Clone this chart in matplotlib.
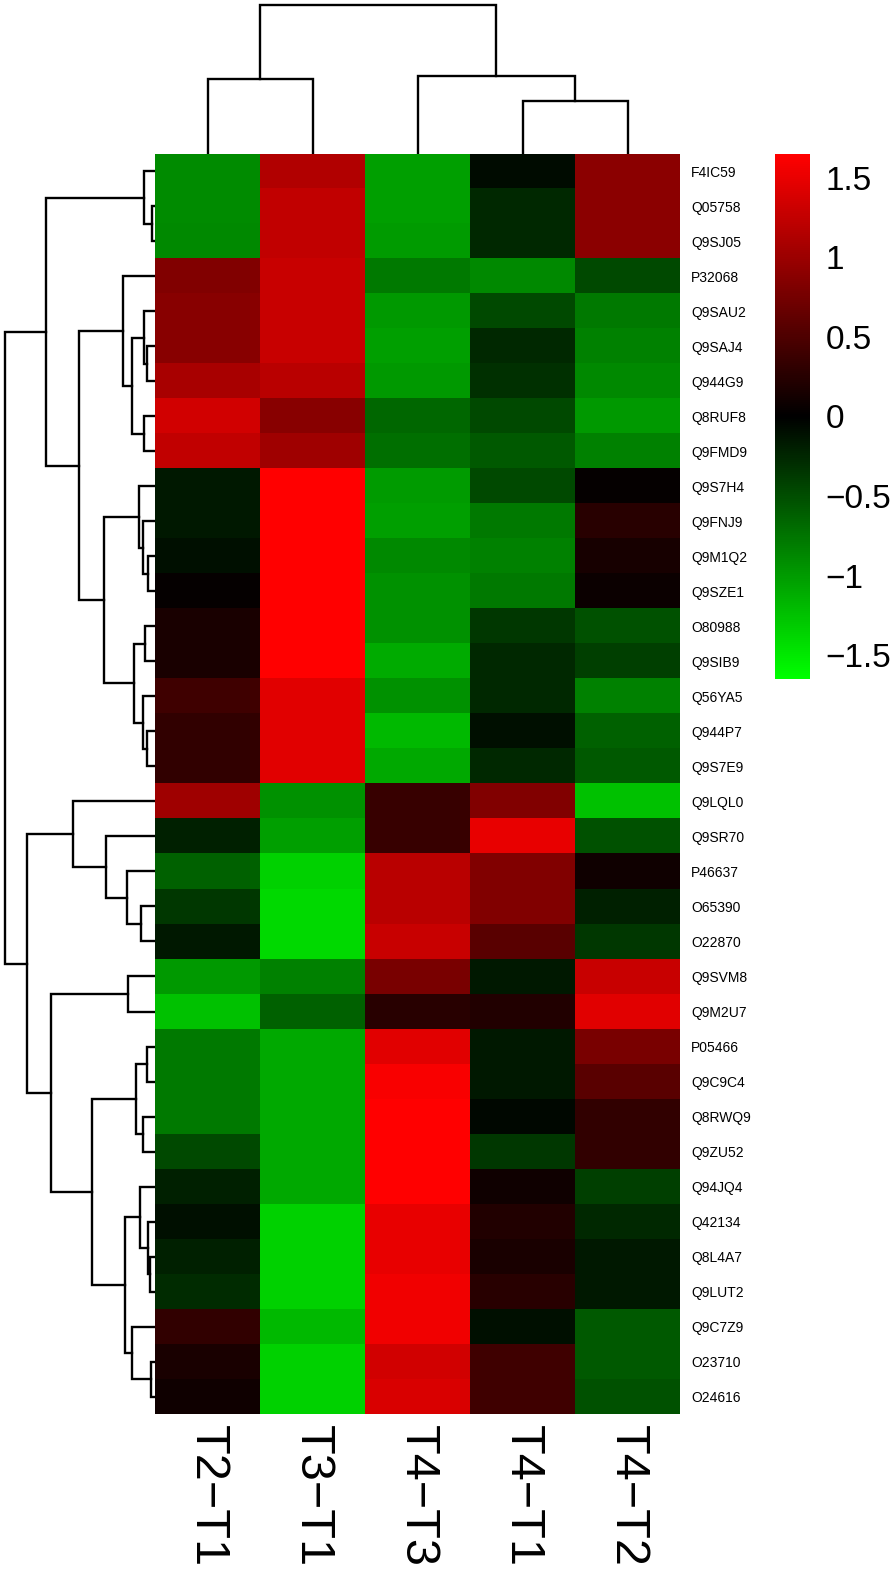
import numpy as np
import matplotlib
matplotlib.use('Agg')
from matplotlib import pyplot as plt
from matplotlib.colors import LinearSegmentedColormap

plt.rcParams['font.family'] = ['Liberation Sans', 'DejaVu Sans']

# ---------------------------------------------------------------- data
samples = ['T2\u2212T1', 'T3\u2212T1', 'T4\u2212T3', 'T4\u2212T1', 'T4\u2212T2']

proteins = ['F4IC59', 'Q05758', 'Q9SJ05', 'P32068', 'Q9SAU2', 'Q9SAJ4',
            'Q944G9', 'Q8RUF8', 'Q9FMD9', 'Q9S7H4', 'Q9FNJ9', 'Q9M1Q2',
            'Q9SZE1', 'O80988', 'Q9SIB9', 'Q56YA5', 'Q944P7', 'Q9S7E9',
            'Q9LQL0', 'Q9SR70', 'P46637', 'O65390', 'O22870', 'Q9SVM8',
            'Q9M2U7', 'P05466', 'Q9C9C4', 'Q8RWQ9', 'Q9ZU52', 'Q94JQ4',
            'Q42134', 'Q8L4A7', 'Q9LUT2', 'Q9C7Z9', 'O23710', 'O24616']

# one list per column (z-scores, same order as proteins)
t2_t1 = [-0.89, -0.90, -0.88, 0.83, 0.88, 0.88, 1.09, 1.35, 1.24, -0.16, -0.16, -0.10,
         0.03, 0.16, 0.16, 0.41, 0.31, 0.31, 1.03, -0.21, -0.62, -0.36, -0.16, -0.98,
         -1.24, -0.78, -0.78, -0.78, -0.47, -0.21, -0.10, -0.21, -0.28, 0.31, 0.16, 0.10]
t3_t1 = [1.14, 1.24, 1.24, 1.29, 1.29, 1.29, 1.19, 0.88, 1.03, 1.65, 1.65, 1.65,
         1.65, 1.65, 1.65, 1.45, 1.45, 1.45, -0.93, -1.03, -1.35, -1.40, -1.40, -0.83,
         -0.62, -1.09, -1.09, -1.09, -1.09, -1.09, -1.35, -1.35, -1.35, -1.19, -1.35, -1.35]
t4_t3 = [-1.03, -1.03, -1.00, -0.78, -0.98, -1.03, -0.98, -0.67, -0.72, -1.00, -1.03, -0.88,
         -0.93, -0.93, -1.10, -0.93, -1.19, -1.09, 0.36, 0.36, 1.19, 1.19, 1.29, 0.78,
         0.26, 1.45, 1.60, 1.65, 1.65, 1.65, 1.50, 1.50, 1.55, 1.55, 1.35, 1.40]
t4_t1 = [-0.07, -0.26, -0.26, -0.88, -0.47, -0.26, -0.31, -0.47, -0.57, -0.47, -0.78, -0.83,
         -0.78, -0.36, -0.26, -0.26, -0.10, -0.26, 0.83, 1.50, 0.83, 0.83, 0.57, -0.16,
         0.21, -0.16, -0.16, -0.05, -0.36, 0.10, 0.21, 0.16, 0.26, -0.10, 0.41, 0.41]
t4_t2 = [0.90, 0.90, 0.90, -0.47, -0.78, -0.83, -0.88, -0.98, -0.83, 0.03, 0.26, 0.15,
         0.07, -0.52, -0.41, -0.83, -0.62, -0.57, -1.24, -0.52, 0.10, -0.21, -0.36, 1.29,
         1.45, 0.78, 0.57, 0.31, 0.31, -0.41, -0.26, -0.16, -0.16, -0.57, -0.57, -0.52]

# row tree: (child a, child b, height); leaves are 0..35, new nodes get 36, 37, ...
row_merges = [(1, 2, 2.7), (0, 36, 10.7), (5, 6, 8.3), (4, 38, 10.7), (7, 8, 10.7),
              (39, 40, 23.0), (3, 41, 32.0), (11, 12, 6.7), (10, 43, 12.3), (9, 44, 15.7),
              (13, 14, 10.0), (16, 17, 8.3), (15, 47, 11.7), (46, 48, 20.7), (45, 49, 51.0),
              (42, 50, 75.7), (37, 51, 109.0), (21, 22, 14.3), (20, 53, 27.7), (19, 54, 49.0),
              (18, 55, 82.0), (23, 24, 26.7), (25, 26, 8.3), (27, 28, 12.3), (58, 59, 19.0),
              (31, 32, 5.0), (30, 61, 6.7), (29, 62, 15.0), (34, 35, 4.3), (33, 64, 23.3),
              (63, 65, 30.0), (60, 66, 63.3), (57, 67, 104.0), (56, 68, 128.0), (52, 69, 150.0)]

# column tree
col_merges = [(3, 4, 52.7), (2, 5, 78.0), (0, 1, 74.7), (7, 6, 149.0)]

cbar_ticks = [-1.5, -1, -0.5, 0, 0.5, 1, 1.5]
cbar_labels = ['\u22121.5', '\u22121', '\u22120.5', '0', '0.5', '1', '1.5']
vlim = 1.65


def dendro_segments(merges, n_leaves):
    pos = {i: float(i) for i in range(n_leaves)}
    hgt = {i: 0.0 for i in range(n_leaves)}
    segs = []
    for k, (a, b, h) in enumerate(merges):
        node = n_leaves + k
        segs.append(([pos[a], pos[a], pos[b], pos[b]], [hgt[a], h, h, hgt[b]]))
        pos[node] = (pos[a] + pos[b]) / 2
        hgt[node] = h
    return segs


values = np.array([t2_t1, t3_t1, t4_t3, t4_t1, t4_t2]).T
cmap = LinearSegmentedColormap.from_list('greenred', ['#00ff00', '#000000', '#ff0000'])

W, H = 894, 1578
fig = plt.figure(figsize=(W / 100, H / 100), dpi=100)


def px_axes(x0, y0, w, h):
    return fig.add_axes([x0 / W, 1 - (y0 + h) / H, w / W, h / H])


hm_x, hm_y, hm_w, hm_h = 155, 154, 525, 1260

# heatmap
ax = px_axes(hm_x, hm_y, hm_w, hm_h)
im = ax.imshow(values, cmap=cmap, vmin=-vlim, vmax=vlim, aspect='auto', interpolation='nearest')
for s in ax.spines.values():
    s.set_visible(False)
ax.yaxis.tick_right()
ax.set_yticks(range(len(proteins)))
ax.set_yticklabels(proteins, fontsize=10)
ax.set_xticks(range(len(samples)))
ax.set_xticklabels(samples, fontsize=35, rotation=-90, va='top', ha='center')
ax.tick_params(axis='y', length=0, pad=8)
ax.tick_params(axis='x', length=0, pad=8)

# row dendrogram
axr = px_axes(0, hm_y, hm_x, hm_h)
for xs, ys in dendro_segments(row_merges, len(proteins)):
    axr.plot(ys, xs, color='black', lw=1.7, solid_joinstyle='miter')
axr.set_xlim(155, 0)
axr.set_ylim(len(proteins) - 0.5, -0.5)
axr.axis('off')

# column dendrogram
axc = px_axes(hm_x, 0, hm_w, hm_y)
for xs, ys in dendro_segments(col_merges, len(samples)):
    axc.plot(xs, ys, color='black', lw=1.7, solid_joinstyle='miter')
axc.set_xlim(-0.5, len(samples) - 0.5)
axc.set_ylim(0, 154)
axc.axis('off')

# colour key
cax = px_axes(775, 154, 35, 525)
cb = fig.colorbar(im, cax=cax)
cb.outline.set_visible(False)
cb.set_ticks(cbar_ticks)
cb.set_ticklabels(cbar_labels)
cax.tick_params(length=0, pad=11, labelsize=24)

fig.savefig('out.png', dpi=100)
